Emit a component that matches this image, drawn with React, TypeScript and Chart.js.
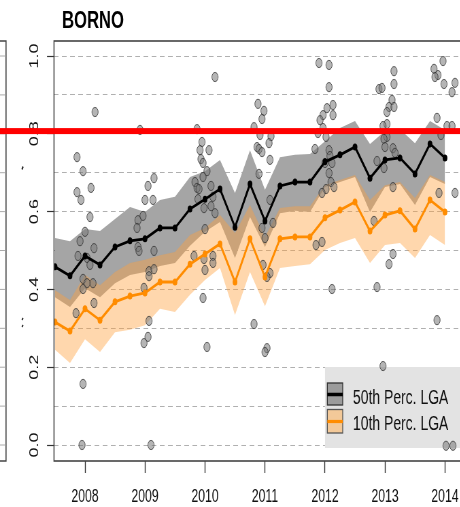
import React, { useEffect, useRef } from 'react';
import { Chart, registerables } from 'chart.js';

Chart.register(...registerables);

// horizontal squeeze of the whole figure (the reference is narrowed)
const SQUEEZE = 0.68;
const CANVAS_W = 700;
const CANVAS_H = 507;
const FONT = "'Liberation Sans', Arial, Helvetica, sans-serif";

const titleText = 'BORNO';
const legendLabels = ['50th Perc. LGA', '10th Perc. LGA'];
const xTickYears = [2008, 2009, 2010, 2011, 2012, 2013, 2014];
const yGridValues = [0, 0.1, 0.2, 0.3, 0.4, 0.5, 0.6, 0.7, 0.8, 0.9, 1.0];
const thresholdValue = 0.807;

const quarterYears = [
  2007.5, 2007.75, 2008.0, 2008.25, 2008.5, 2008.75, 2009.0, 2009.25, 2009.5,
  2009.75, 2010.0, 2010.25, 2010.5, 2010.75, 2011.0, 2011.25, 2011.5, 2011.75,
  2012.0, 2012.25, 2012.5, 2012.75, 2013.0, 2013.25, 2013.5, 2013.75, 2014.0,
];

const perc50 = [
  0.458, 0.435, 0.486, 0.463, 0.509, 0.525, 0.53, 0.558, 0.558, 0.607, 0.632,
  0.658, 0.56, 0.671, 0.576, 0.666, 0.676, 0.676, 0.728, 0.746, 0.766, 0.686,
  0.733, 0.738, 0.697, 0.774, 0.738,
];
const perc50Upper = [
  0.532, 0.524, 0.555, 0.55, 0.581, 0.612, 0.599, 0.63, 0.638, 0.689, 0.704,
  0.733, 0.648, 0.758, 0.656, 0.74, 0.746, 0.748, 0.781, 0.815, 0.833, 0.774,
  0.807, 0.812, 0.776, 0.833, 0.81,
];
const perc50Lower = [
  0.38, 0.355, 0.403, 0.38, 0.416, 0.437, 0.445, 0.46, 0.468, 0.512, 0.548,
  0.573, 0.481, 0.586, 0.509, 0.596, 0.602, 0.599, 0.663, 0.676, 0.689, 0.599,
  0.663, 0.671, 0.617, 0.689, 0.671,
];

const perc10 = [
  0.316, 0.293, 0.35, 0.321, 0.368, 0.383, 0.391, 0.419, 0.419, 0.465, 0.491,
  0.517, 0.419, 0.53, 0.432, 0.53, 0.535, 0.535, 0.584, 0.604, 0.625, 0.55,
  0.591, 0.602, 0.555, 0.63, 0.599,
];
const perc10Upper = [
  0.398, 0.373, 0.437, 0.411, 0.445, 0.468, 0.476, 0.488, 0.496, 0.54, 0.558,
  0.591, 0.545, 0.617, 0.535, 0.609, 0.614, 0.614, 0.668, 0.681, 0.694, 0.63,
  0.668, 0.676, 0.635, 0.694, 0.676,
];
const perc10Lower = [
  0.245, 0.211, 0.272, 0.239, 0.29, 0.296, 0.308, 0.35, 0.342, 0.386, 0.424,
  0.455, 0.334, 0.445, 0.357, 0.455, 0.46, 0.465, 0.501, 0.519, 0.532, 0.468,
  0.514, 0.519, 0.481, 0.54, 0.514,
];

// individual LGA observations (grey dots)
const lgaYears = [
  2008.167, 2007.867, 2007.967, 2007.867, 2007.933, 2008.1, 2008.083, 2008.0, 2007.917, 2008.15,
  2007.883, 2008.033, 2008.083, 2007.967, 2008.033, 2008.133, 2007.967, 2008.15, 2007.85, 2007.967,
  2007.95,
  2008.917, 2009.05, 2009.15, 2009.0, 2009.133, 2008.883, 2008.967, 2008.867, 2008.883, 2008.9,
  2009.15, 2009.067, 2009.15, 2009.067, 2008.983, 2009.067, 2009.05, 2008.983, 2009.1,
  2010.167, 2009.867, 2009.95, 2009.917, 2010.067, 2009.933, 2009.967, 2010.033, 2009.967, 2009.833,
  2009.867, 2009.9, 2010.1, 2010.133, 2009.983, 2010.167, 2010.0, 2009.983, 2010.133, 2010.133,
  2010.0, 2009.967, 2010.033, 2009.817, 2010.1, 2009.883,
  2010.883, 2010.983, 2010.95, 2010.817, 2010.917, 2011.1, 2011.067, 2010.867, 2010.9, 2010.95,
  2011.083, 2010.9, 2010.967, 2011.083, 2011.033, 2010.817, 2011.033, 2011.0, 2010.95, 2011.133,
  2011.0, 2011.083,
  2011.9, 2012.067, 2012.067, 2012.133, 2012.033, 2011.967, 2012.133, 2011.917, 2011.967, 2011.883,
  2012.017, 2011.833, 2012.067, 2012.083, 2012.0, 2012.117, 2012.067, 2012.1, 2012.15, 2012.017,
  2011.95, 2011.85, 2011.95, 2012.117,
  2012.9, 2012.95, 2013.15, 2013.15, 2013.117, 2013.067, 2013.033, 2013.15, 2013.033, 2012.967,
  2013.033, 2012.983, 2013.0, 2013.133, 2013.167, 2012.867, 2012.983, 2013.133, 2012.817, 2013.133,
  2013.067, 2012.867, 2012.967,
  2013.967, 2013.817, 2013.883, 2013.833, 2013.983, 2014.167, 2014.117, 2013.867, 2014.033, 2014.117,
  2013.933, 2014.167, 2013.9, 2013.867, 2014.017, 2014.133,
];
const lgaValues = [
  0.856, 0.74, 0.704, 0.65, 0.63, 0.661, 0.586, 0.548, 0.524, 0.506,
  0.486, 0.481, 0.463, 0.427, 0.416, 0.416, 0.401, 0.365, 0.339, 0.157,
  0.0,
  0.81, 0.666, 0.686, 0.63, 0.63, 0.578, 0.589, 0.558, 0.509, 0.499,
  0.499, 0.447, 0.452, 0.434, 0.404, 0.319, 0.278, 0.262, 0.0,
  0.946, 0.812, 0.779, 0.758, 0.758, 0.735, 0.725, 0.704, 0.689, 0.676,
  0.661, 0.658, 0.666, 0.638, 0.609, 0.596, 0.555, 0.478, 0.486, 0.468,
  0.45, 0.378, 0.252, 0.486, 0.614, 0.632,
  0.877, 0.859, 0.838, 0.817, 0.797, 0.794, 0.776, 0.766, 0.761, 0.753,
  0.733, 0.697, 0.463, 0.442, 0.432, 0.311, 0.249, 0.239, 0.558, 0.571,
  0.532, 0.63,
  0.982, 0.977, 0.92, 0.874, 0.866, 0.848, 0.848, 0.835, 0.815, 0.802,
  0.792, 0.761, 0.758, 0.743, 0.725, 0.725, 0.699, 0.676, 0.663, 0.658,
  0.648, 0.514, 0.522, 0.401,
  0.915, 0.918, 0.961, 0.928, 0.887, 0.869, 0.856, 0.869, 0.825, 0.82,
  0.792, 0.787, 0.766, 0.763, 0.751, 0.73, 0.712, 0.663, 0.576, 0.491,
  0.465, 0.406, 0.203,
  0.987, 0.967, 0.951, 0.946, 0.928, 0.931, 0.907, 0.841, 0.82, 0.82,
  0.797, 0.648, 0.648, 0.321, -0.002, -0.002,
];

const X_MIN = 2007.4833;
const X_MAX = 2014.267;
const Y_MIN = -0.0411;
const Y_MAX = 1.0386;

const toPts = (xs: number[], ys: number[]) => xs.map((x, i) => ({ x, y: ys[i] }));
const cx = (pageX: number) => pageX / SQUEEZE;

const decorPlugin = {
  id: 'decor',
  beforeDatasetsDraw(chart: any) {
    const { ctx } = chart;
    ctx.save();
    // legend box
    ctx.fillStyle = '#e3e3e3';
    ctx.fillRect(cx(325), 367, CANVAS_W - cx(325), 81);
    const sx = cx(327.3);
    const sw = cx(342.7) - sx;
    // swatch 1
    ctx.fillStyle = '#9c9c9c';
    ctx.fillRect(sx, 383, sw, 22);
    ctx.strokeStyle = '#333';
    ctx.lineWidth = 1.3;
    ctx.strokeRect(sx, 383, sw, 22);
    ctx.strokeStyle = '#000';
    ctx.lineWidth = 3.5;
    ctx.beginPath();
    ctx.moveTo(sx, 394.5);
    ctx.lineTo(sx + sw, 394.5);
    ctx.stroke();
    // swatch 2
    ctx.fillStyle = '#f3c999';
    ctx.fillRect(sx, 409.5, sw, 23.5);
    ctx.strokeStyle = '#555';
    ctx.lineWidth = 1.3;
    ctx.strokeRect(sx, 409.5, sw, 23.5);
    ctx.strokeStyle = '#ff8c00';
    ctx.lineWidth = 3.2;
    ctx.beginPath();
    ctx.moveTo(sx, 421.5);
    ctx.lineTo(sx + sw, 421.5);
    ctx.stroke();
    // texts
    ctx.fillStyle = '#111';
    ctx.font = `20.5px ${FONT}`;
    ctx.textBaseline = 'alphabetic';
    ctx.textAlign = 'left';
    ctx.fillText(legendLabels[0], cx(353), 404);
    ctx.fillText(legendLabels[1], cx(353), 430);
    ctx.restore();
  },
  afterDraw(chart: any) {
    const { ctx, chartArea, scales } = chart;
    ctx.save();
    // plot box
    ctx.strokeStyle = '#444';
    ctx.lineWidth = 1.6;
    ctx.strokeRect(chartArea.left, chartArea.top, chartArea.right - chartArea.left, chartArea.bottom - chartArea.top);
    // neighbouring panel edge
    ctx.beginPath();
    ctx.moveTo(0, chartArea.top);
    ctx.lineTo(cx(6), chartArea.top);
    ctx.lineTo(cx(6), chartArea.bottom);
    ctx.lineTo(0, chartArea.bottom);
    ctx.stroke();
    ctx.strokeStyle = '#aaa';
    ctx.lineWidth = 1;
    ctx.setLineDash([7, 5]);
    yGridValues.forEach((v) => {
      const y = scales.y.getPixelForValue(v);
      ctx.beginPath();
      ctx.moveTo(0, y);
      ctx.lineTo(cx(5), y);
      ctx.stroke();
    });
    ctx.setLineDash([]);
    // small stray marks of a clipped axis title
    ctx.strokeStyle = '#222';
    ctx.lineWidth = 2;
    [[168, 3], [319, 2], [326, 2]].forEach(([y, h]) => {
      ctx.beginPath();
      ctx.moveTo(cx(23), y - h / 2);
      ctx.lineTo(cx(22), y + h / 2);
      ctx.stroke();
    });
    // threshold
    const ry = scales.y.getPixelForValue(thresholdValue);
    ctx.fillStyle = '#ff0000';
    ctx.fillRect(0, ry - 3, CANVAS_W, 6);
    // title
    ctx.fillStyle = '#000';
    ctx.font = `bold 24.5px ${FONT}`;
    ctx.textAlign = 'left';
    ctx.textBaseline = 'alphabetic';
    ctx.fillText(titleText, cx(62), 28);
    ctx.restore();
  },
};

export default function App() {
  const ref = useRef<HTMLCanvasElement | null>(null);

  useEffect(() => {
    if (!ref.current) return;
    const chart = new Chart(ref.current, {
      type: 'line',
      data: {
        datasets: [
          {
            label: '10th line',
            data: toPts(quarterYears, perc10),
            borderColor: '#ff8c00',
            backgroundColor: '#ff8c00',
            borderWidth: 2.8,
            pointRadius: 3.5,
            pointBorderWidth: 0,
            pointBackgroundColor: '#ff8c00',
            fill: false,
          },
          {
            label: '50th line',
            data: toPts(quarterYears, perc50),
            borderColor: '#000',
            backgroundColor: '#000',
            borderWidth: 2.8,
            pointRadius: 3.5,
            pointBorderWidth: 0,
            pointBackgroundColor: '#000',
            fill: false,
          },
          {
            label: 'LGA',
            data: toPts(lgaYears, lgaValues),
            showLine: false,
            pointRadius: 4.6,
            pointBorderWidth: 1,
            pointBackgroundColor: 'rgba(120,120,120,0.55)',
            pointBorderColor: 'rgba(45,45,45,0.75)',
            fill: false,
          },
          {
            label: '10th upper',
            data: toPts(quarterYears, perc10Upper),
            borderWidth: 0,
            pointRadius: 0,
            backgroundColor: 'rgba(255,160,60,0.42)',
            fill: '+1',
          },
          {
            label: '10th lower',
            data: toPts(quarterYears, perc10Lower),
            borderWidth: 0,
            pointRadius: 0,
            fill: false,
          },
          {
            label: '50th upper',
            data: toPts(quarterYears, perc50Upper),
            borderWidth: 0,
            pointRadius: 0,
            backgroundColor: '#a5a5a5',
            fill: '+1',
          },
          {
            label: '50th lower',
            data: toPts(quarterYears, perc50Lower),
            borderWidth: 0,
            pointRadius: 0,
            fill: false,
          },
        ],
      },
      options: {
        responsive: false,
        maintainAspectRatio: false,
        animation: false,
        devicePixelRatio: 1,
        layout: { padding: { top: 41, left: 0, bottom: 0, right: CANVAS_W - cx(461) } },
        elements: { line: { tension: 0 } },
        plugins: { legend: { display: false }, tooltip: { enabled: false }, title: { display: false } },
        scales: {
          x: {
            type: 'linear',
            min: X_MIN,
            max: X_MAX,
            afterBuildTicks: (scale: any) => {
              scale.ticks = xTickYears.map((v) => ({ value: v }));
            },
            afterFit: (scale: any) => {
              scale.height = CANVAS_H - 461;
            },
            grid: {
              display: true,
              drawOnChartArea: false,
              drawTicks: true,
              tickLength: 12,
              tickColor: '#333',
              tickWidth: 1.4,
            },
            border: { display: false },
            ticks: {
              autoSkip: false,
              maxRotation: 0,
              minRotation: 0,
              padding: 13,
              color: '#111',
              font: { family: FONT, size: 18 },
              callback: (v: any) => String(v),
            },
          },
          y: {
            type: 'linear',
            min: Y_MIN,
            max: Y_MAX,
            afterBuildTicks: (scale: any) => {
              scale.ticks = yGridValues.map((v) => ({ value: v }));
            },
            afterFit: (scale: any) => {
              scale.width = cx(54);
            },
            grid: {
              display: true,
              drawOnChartArea: true,
              drawTicks: true,
              tickLength: cx(7),
              color: '#b0b0b0',
              lineWidth: 1,
              tickWidth: 1.2,
              tickColor: (c: any) =>
                c.tick && Math.round(c.tick.value * 10) % 2 === 0 ? '#333' : 'rgba(0,0,0,0)',
            },
            border: { display: false, dash: [7, 5] },
            ticks: {
              autoSkip: false,
              minRotation: 90,
              maxRotation: 90,
              crossAlign: 'center',
              padding: 6,
              color: '#111',
              font: { family: FONT, size: 18 },
              callback: (v: any) => (Math.round(v * 10) % 2 === 0 ? Number(v).toFixed(1) : ''),
            },
          },
        },
      },
      plugins: [decorPlugin],
    } as any);
    return () => chart.destroy();
  }, []);

  return (
    <div
      style={{
        position: 'fixed',
        left: 0,
        top: 0,
        width: 460,
        height: 507,
        overflow: 'hidden',
        background: '#fff',
      }}
    >
      <div
        style={{
          width: CANVAS_W,
          height: CANVAS_H,
          transform: `scaleX(${SQUEEZE})`,
          transformOrigin: '0 0',
        }}
      >
        <canvas
          ref={ref}
          width={CANVAS_W}
          height={CANVAS_H}
          style={{ width: CANVAS_W, height: CANVAS_H, display: 'block' }}
        />
      </div>
    </div>
  );
}
